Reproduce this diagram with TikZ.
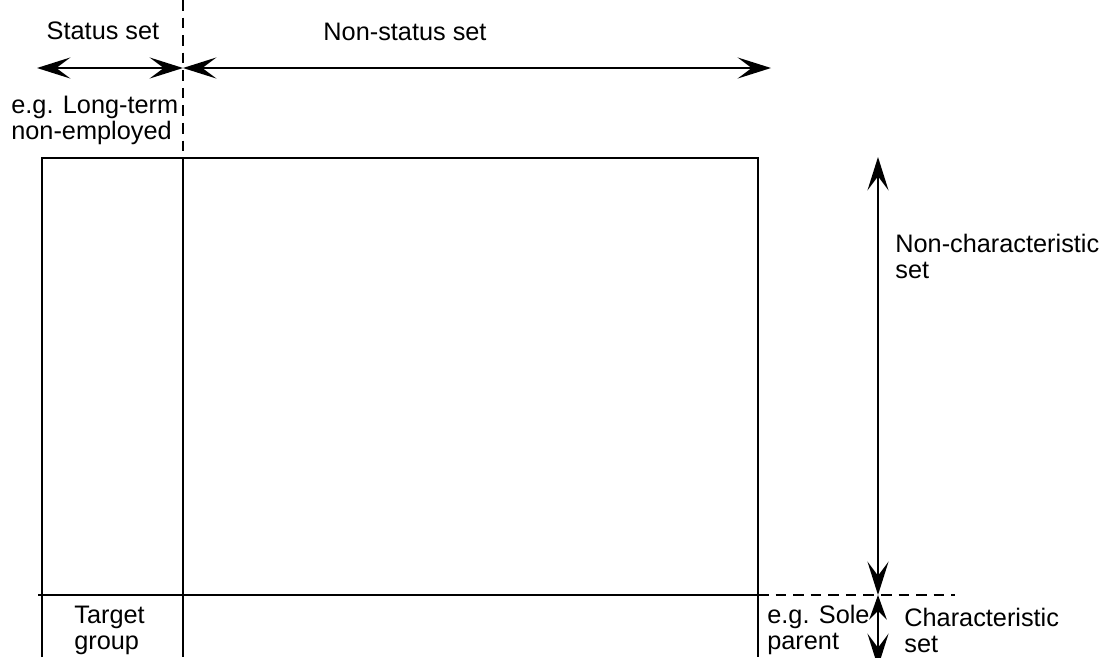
\documentclass[tikz,border=0pt]{standalone}
\usepackage{fontspec}
\setmainfont{Liberation Sans}
\usetikzlibrary{arrows.meta}

\begin{document}
\begin{tikzpicture}[x = 0.02cm, y = -0.02cm, font = \fontsize{14.4}{14.8}\selectfont,
	head/.tip = {Stealth[length = 19pt, width = 12pt, inset = 8pt]},
	small head/.tip = {Stealth[length = 14pt, width = 10pt, inset = 5pt]},
	span/.style = {line width = 1.1pt, {head}-{head}},
	short span/.style = {line width = 1.1pt, {small head}-{head}},
	frame/.style = {line width = 0.8pt},
	guide/.style = {line width = 0.8pt, dash pattern = on 6pt off 4pt},
	label/.style = {inner sep = 0pt, align = left, anchor = west}]

	% Canvas
	
	\clip (0, 0) rectangle (1103, 657);
	
	% Corner points
	
	\coordinate (top left) at (42, 158);
	\coordinate (top split) at (183, 158);
	\coordinate (top right) at (758, 158);
	\coordinate (base left) at (42, 657);
	\coordinate (base split) at (183, 657);
	\coordinate (base right) at (758, 657);
	\coordinate (mid left) at (38, 595);
	\coordinate (mid right) at (758, 595);
	\coordinate (mid end) at (955, 595);
	\coordinate (split top) at (183, 0);
	
	% Draw table
	
	\draw [frame] (base left) -- (top left) -- (top right) -- (base right);
	\draw [frame] (top split) -- (base split);
	\draw [frame] (mid left) -- (mid right);
	\draw [guide] (split top) -- (top split);
	\draw [guide] (mid right) -- (mid end);
	
	% Draw column arrows
	
	\coordinate (status l) at (37, 68);
	\coordinate (status r) at (183, 68);
	\coordinate (nonstatus r) at (771, 68);
	
	\draw [span] (status l) -- (status r);
	\draw [span] (status r) -- (nonstatus r);
	
	% Draw row arrows
	
	\coordinate (row top) at (878, 157);
	\coordinate (row mid) at (878, 595);
	\coordinate (row base) at (878, 667);
	
	\draw [span] (row top) -- (row mid);
	\draw [short span] (row mid) -- (row base);
	
	% Labels
	
	\node (status) at (103, 31) {Status set};
	\node (nonstatus) at (405, 32) {Non-status set};
	\node [label] (longterm) at (11, 120) {e.g. Long-term\\non-employed};
	\node [label] (nonchar) at (895, 256) {Non-characteristic\\set};
	\node [label] (target) at (74, 630) {Target\\group};
	\node [label] (sole) at (767, 630) {e.g. Sole\\parent};
	\node [label] (char) at (904, 630) {Characteristic\\set};
	
\end{tikzpicture}
\end{document}
